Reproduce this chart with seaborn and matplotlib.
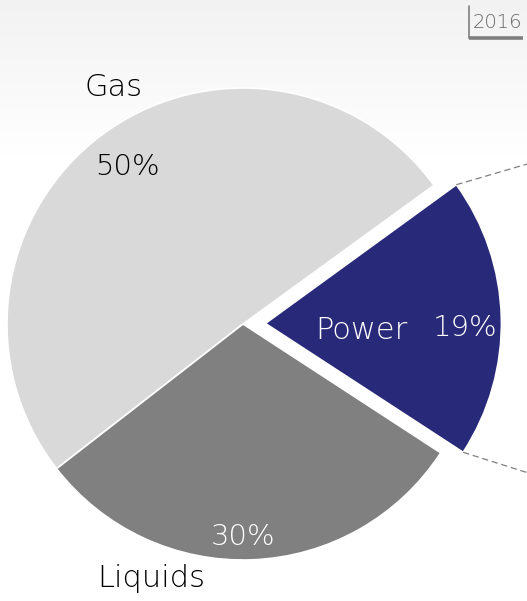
import numpy as np
import matplotlib
matplotlib.use("Agg")
import matplotlib.pyplot as plt
import seaborn as sns

# Energy mix, 2016
categories = ["Gas", "Liquids", "Power"]
shares = [50, 30, 19]
pct_labels = ["50%", "30%", "19%"]
year_label = "2016"

sns.set_theme(style="white")
plt.rcParams["font.family"] = ["DejaVu Sans"]
plt.rcParams["font.weight"] = "light"

colors = ["#d9d9d9", "#808080", "#29297a"]
explode = [0, 0, 0.095]

W, H, DPI = 527, 601, 100
fig = plt.figure(figsize=(W / DPI, H / DPI), dpi=DPI)

# soft grey-to-white band at the top of the canvas
bg = fig.add_axes([0, 0, 1, 1], zorder=0)
grad = np.ones((H, 1))
band = int(H * 0.26)
grad[:band, 0] = np.linspace(0.949, 1.0, band)
bg.imshow(np.dstack([grad, grad, grad]), aspect="auto", extent=[0, 1, 0, 1],
          interpolation="bilinear")
bg.axis("off")

ax = fig.add_axes([0, 0, 1, 1], zorder=1)
ax.patch.set_alpha(0)
wedges, _ = ax.pie(shares, colors=colors, explode=explode, startangle=36,
                   counterclock=True, radius=1.0,
                   wedgeprops=dict(edgecolor="white", linewidth=1.2))
ax.set_xlim(-243 / 236, (W - 243) / 236)
ax.set_ylim(-(H - 324) / 236, 324 / 236)
ax.set_aspect("auto")
ax.axis("off")

# category names and percentages
fs = 22
dark = "black"
ax.text(-0.55, 0.965, categories[0], ha="center", va="baseline",
        fontsize=fs, color=dark)
ax.text(-0.49, 0.63, pct_labels[0], ha="center", va="baseline",
        fontsize=fs - 1, color=dark)
ax.text(0.0, -0.935, pct_labels[1], ha="center", va="baseline",
        fontsize=fs - 1, color="white")
ax.text(-0.39, -1.115, categories[1], ha="center", va="baseline",
        fontsize=fs, color=dark)
ax.text(0.50, -0.064, categories[2], ha="center", va="baseline",
        fontsize=fs, color="white")
ax.text(0.94, -0.05, pct_labels[2], ha="center", va="baseline",
        fontsize=fs - 1, color="white")

# dashed connectors leading off to the right from the exploded wedge
pw = wedges[2]
cx, cy = pw.center
targets = {pw.theta2: (1.52, 0.77), pw.theta1: (1.52, -0.73)}
for theta, (tx, ty) in targets.items():
    sx = cx + pw.r * np.cos(np.radians(theta))
    sy = cy + pw.r * np.sin(np.radians(theta))
    ax.plot([sx, tx], [sy, ty], color="#7f7f7f", lw=0.9,
            linestyle=(0, (5, 3)), clip_on=True)

# year tag in the top right corner
fig.text(498 / W, 1 - 28 / H, year_label, ha="center", va="baseline",
         fontsize=14, color="#666666")
fig.add_artist(plt.Line2D([469 / W, 469 / W], [1 - 6 / H, 1 - 38 / H],
                          color="#7f7f7f", lw=1.2))
fig.add_artist(plt.Line2D([469 / W, 523 / W], [1 - 38 / H, 1 - 38 / H],
                          color="#7f7f7f", lw=2.6, solid_capstyle="butt"))

fig.savefig("out.png", dpi=DPI)
